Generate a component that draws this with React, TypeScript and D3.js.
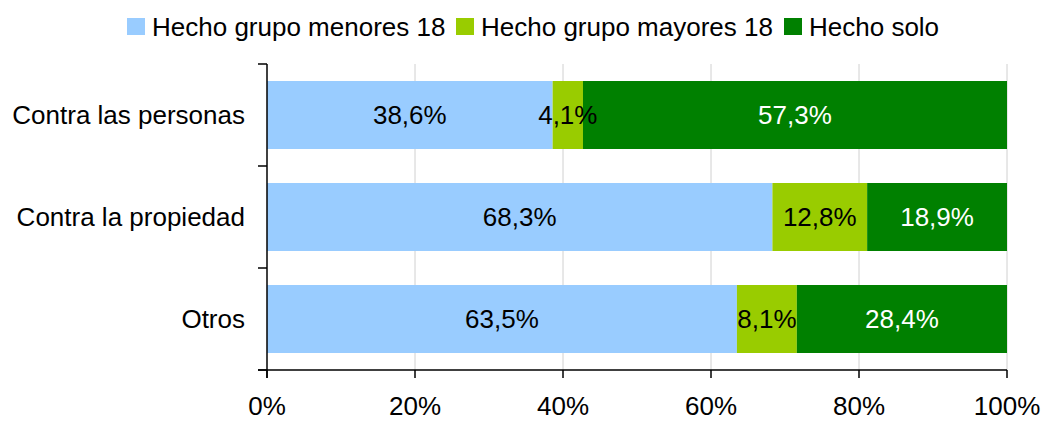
import React, { useEffect, useRef } from "react";
import * as d3 from "d3";

const categories = ["Contra las personas", "Contra la propiedad", "Otros"];
const seriesNames = ["Hecho grupo menores 18", "Hecho grupo mayores 18", "Hecho solo"];
const menores = [38.6, 68.3, 63.5];
const mayores = [4.1, 12.8, 8.1];
const solo = [57.3, 18.9, 28.4];
const xTicks = [0, 20, 40, 60, 80, 100];
const colors = ["#99ccff", "#99cc00", "#008000"];
const labelColors = ["#000000", "#000000", "#ffffff"];

const W = 1043;
const H = 421;
const FONT = "'Liberation Sans', Arial, sans-serif";
const FS = 26;

export default function App() {
  const ref = useRef<SVGSVGElement | null>(null);

  useEffect(() => {
    const svg = d3.select(ref.current);
    svg.selectAll("*").remove();

    const left = 267, right = 1007, top = 64, bottom = 370;
    const x = d3.scaleLinear().domain([0, 100]).range([left, right]);
    const y = d3.scaleBand<string>().domain(categories).range([top, bottom]).paddingInner(1 / 3).paddingOuter(1 / 6);

    // gridlines
    svg.append("g").selectAll("line").data(xTicks.slice(1)).join("line")
      .attr("x1", (d) => x(d)).attr("x2", (d) => x(d))
      .attr("y1", top).attr("y2", bottom)
      .attr("stroke", "#d0d0d0").attr("stroke-width", 1);

    const series = [menores, mayores, solo];
    const g = svg.append("g");
    categories.forEach((cat, i) => {
      let acc = 0;
      series.forEach((s, k) => {
        const v = s[i];
        const x0 = x(acc), x1 = x(acc + v);
        g.append("rect").attr("x", x0).attr("y", y(cat)!).attr("width", x1 - x0).attr("height", y.bandwidth()).attr("fill", colors[k]);
        acc += v;
      });
    });
    categories.forEach((cat, i) => {
      let acc = 0;
      series.forEach((s, k) => {
        const v = s[i];
        g.append("text").attr("x", x(acc + v / 2)).attr("y", y(cat)! + y.bandwidth() / 2)
          .attr("text-anchor", "middle").attr("dominant-baseline", "central")
          .attr("font-family", FONT).attr("font-size", FS).attr("fill", labelColors[k])
          .text(v.toFixed(1).replace(".", ",") + "%");
        acc += v;
      });
    });

    // axes
    const ax = svg.append("g").attr("stroke", "#000").attr("stroke-width", 1.5);
    ax.append("line").attr("x1", left).attr("x2", left).attr("y1", top).attr("y2", bottom + 8);
    ax.append("line").attr("x1", left - 9).attr("x2", right).attr("y1", bottom).attr("y2", bottom);
    const yTickPos = [top, ...categories.map((c) => y(c)! + y.bandwidth() + (y.step() - y.bandwidth()) / 2)];
    ax.selectAll("line.yt").data(yTickPos).join("line").attr("class", "yt")
      .attr("x1", left - 9).attr("x2", left).attr("y1", (d) => d).attr("y2", (d) => d);
    ax.selectAll("line.xt").data(xTicks).join("line").attr("class", "xt")
      .attr("x1", (d) => x(d)).attr("x2", (d) => x(d)).attr("y1", bottom).attr("y2", bottom + 8);

    svg.append("g").selectAll("text").data(xTicks).join("text")
      .attr("x", (d) => x(d)).attr("y", 406).attr("text-anchor", "middle").attr("dominant-baseline", "central")
      .attr("font-family", FONT).attr("font-size", FS).attr("fill", "#000").text((d) => d + "%");

    svg.append("g").selectAll("text").data(categories).join("text")
      .attr("x", 245).attr("y", (d) => y(d)! + y.bandwidth() / 2).attr("text-anchor", "end").attr("dominant-baseline", "central")
      .attr("font-family", FONT).attr("font-size", FS).attr("fill", "#000").text((d) => d);

    // legend
    const lg = svg.append("g");
    const swatchX = [127, 456, 784];
    seriesNames.forEach((n, k) => {
      lg.append("rect").attr("x", swatchX[k]).attr("y", 18).attr("width", 18).attr("height", 17).attr("fill", colors[k]);
      lg.append("text").attr("x", swatchX[k] + 25).attr("y", 27).attr("dominant-baseline", "central")
        .attr("font-family", FONT).attr("font-size", FS).attr("fill", "#000").text(n);
    });
  }, []);

  return (
    <svg ref={ref} width={W} height={H} style={{ position: "absolute", left: 0, top: 0, background: "#fff" }} />
  );
}
